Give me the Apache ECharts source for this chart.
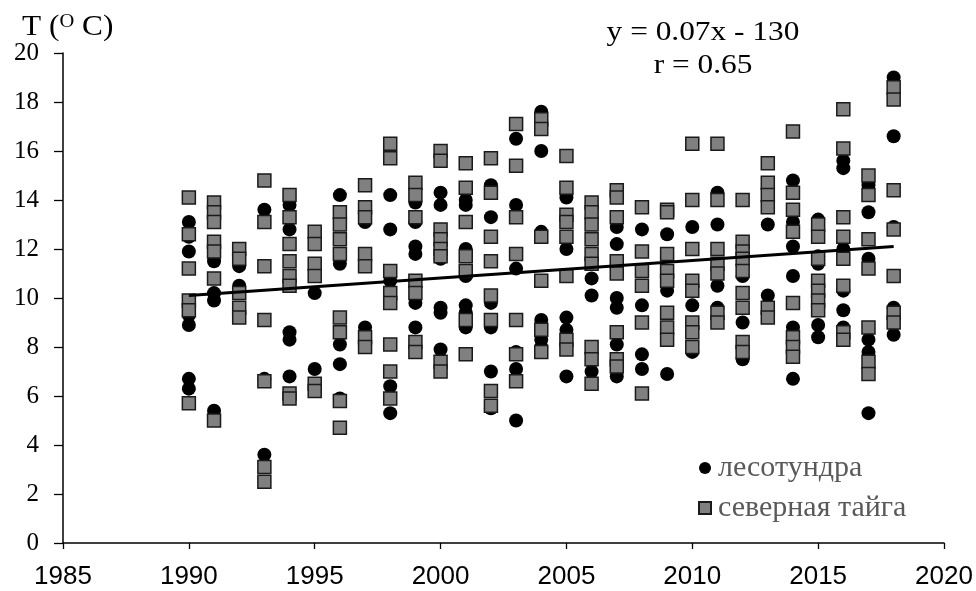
<!DOCTYPE html>
<html>
<head>
<meta charset="utf-8">
<script src="https://cdn.jsdelivr.net/npm/echarts@6/dist/echarts.min.js"></script>
<style>
html, body { margin: 0; padding: 0; background: #fff; }
#box1 { width: 976px; height: 591px; }
</style>
</head>
<body>
<div id="box1"></div>
<script>
// годы наблюдений
var years = [1990, 1991, 1992, 1993, 1994, 1995, 1996, 1997, 1998, 1999,
    2000, 2001, 2002, 2003, 2004, 2005, 2006, 2007, 2008, 2009,
    2010, 2011, 2012, 2013, 2014, 2015, 2016, 2017, 2018];

// лесотундра, T по годам
var lesotundra = [
    [13.1, 12.5, 11.9, 9.3, 8.9, 6.7, 6.3],
    [11.8, 11.5, 10.2, 9.9, 5.4],
    [11.3, 10.5],
    [13.6, 6.7, 3.6],
    [13.8, 12.8, 8.6, 8.3, 6.8],
    [10.2, 7.1],
    [14.2, 11.4, 8.1, 7.3, 5.9],
    [13.1, 8.8],
    [14.2, 12.8, 10.7, 6.4, 5.3],
    [13.9, 13.1, 12.1, 11.8, 9.8, 8.8],
    [14.3, 13.8, 11.6, 9.6, 9.4, 7.9],
    [14.0, 13.8, 12.0, 10.9, 9.7, 9.4, 8.8],
    [14.6, 13.3, 9.8, 8.8, 7.0, 5.5],
    [16.5, 13.8, 11.2, 7.8, 7.1, 5.0],
    [17.6, 16.0, 12.7, 9.1, 8.3, 8.0],
    [14.1, 12.0, 9.2, 8.7, 6.8],
    [10.8, 10.1, 7.0],
    [12.9, 12.2, 10.0, 9.6, 8.1, 6.8],
    [12.8, 9.7, 7.7, 7.1],
    [12.6, 10.3, 6.9],
    [12.9, 9.7, 7.8],
    [14.3, 13.0, 10.5, 9.6],
    [10.9, 9.0, 7.5],
    [13.0, 10.1],
    [14.8, 13.1, 12.1, 10.9, 8.8, 6.7],
    [13.2, 11.7, 11.4, 8.9, 8.4],
    [15.6, 15.3, 12.0, 10.3, 9.5, 8.8],
    [14.6, 13.5, 11.6, 8.3, 7.8, 5.3],
    [19.0, 16.6, 12.9, 9.6, 8.5]
];

// северная тайга, T по годам
var taiga = [
    [14.1, 12.6, 11.2, 9.9, 9.5, 5.7],
    [13.9, 13.5, 13.1, 12.3, 11.9, 10.8, 5.0],
    [12.0, 11.6, 10.2, 9.6, 9.2],
    [14.8, 13.1, 11.3, 9.1, 6.6, 3.1, 2.5],
    [14.2, 13.3, 12.2, 11.5, 10.9, 10.5, 6.1, 5.9],
    [12.7, 12.2, 11.4, 10.9, 6.5, 6.2],
    [13.5, 13.0, 12.4, 11.8, 9.2, 8.6, 5.8, 4.7],
    [14.6, 13.7, 13.3, 11.8, 11.3, 8.4, 8.0],
    [16.3, 15.7, 11.1, 10.2, 9.8, 8.1, 7.0, 5.9],
    [14.7, 14.2, 13.3, 10.7, 10.2, 8.2, 7.8],
    [16.0, 15.6, 12.8, 12.4, 12.0, 11.7, 7.4, 7.0],
    [15.5, 14.5, 13.1, 11.7, 11.1, 9.1, 7.7],
    [15.7, 14.3, 12.5, 11.5, 10.1, 9.1, 6.2, 5.6],
    [17.1, 15.4, 13.3, 11.8, 9.1, 7.7, 6.6],
    [17.3, 16.9, 12.5, 10.7, 8.7, 7.8],
    [15.8, 14.5, 13.4, 13.1, 12.5, 10.9, 8.3, 7.9],
    [13.9, 13.5, 13.0, 12.4, 11.8, 11.4, 8.0, 7.5, 6.5],
    [14.4, 14.1, 13.3, 11.5, 11.0, 8.6, 7.5, 7.2],
    [13.7, 11.9, 11.1, 10.5, 9.0, 6.1],
    [13.6, 13.5, 11.8, 11.1, 10.7, 9.4, 8.8, 8.3],
    [16.3, 14.0, 12.0, 10.7, 10.3, 9.0, 8.6, 8.0],
    [16.3, 14.0, 12.0, 11.4, 11.0, 9.4, 9.0],
    [14.0, 12.3, 11.9, 11.6, 11.1, 10.2, 9.6, 8.2, 7.8],
    [15.5, 14.7, 14.2, 13.7, 9.6, 9.2],
    [16.8, 14.3, 13.6, 12.7, 9.8, 8.4, 8.0, 7.6],
    [13.0, 12.5, 11.6, 10.7, 10.3, 9.9, 9.5],
    [17.7, 16.1, 13.3, 12.5, 11.6, 10.5, 8.6, 8.3],
    [15.0, 14.2, 12.4, 11.2, 8.8, 7.4, 6.9],
    [18.6, 18.1, 14.4, 12.8, 10.9, 9.4, 9.0]
];

// линия тренда (концы)
var trendYears = [1990, 2018];
var trendValues = [10.1, 12.1];

function toPoints(byYear) {
    var pts = [];
    for (var i = 0; i < years.length; i++) {
        for (var j = 0; j < byYear[i].length; j++) {
            pts.push([years[i], byYear[i][j]]);
        }
    }
    return pts;
}

var serif = '"Liberation Serif", "Times New Roman", serif';
var sans = '"Liberation Sans", Arial, sans-serif';

var dom = document.getElementById("box1");
var myChart = echarts.init(dom);
var option = {
    animation: false,
    grid: { left: 63, right: 32, top: 53, bottom: 48 },
    xAxis: {
        type: 'value',
        min: 1985,
        max: 2020,
        interval: 5,
        axisLine: { lineStyle: { color: '#000', width: 1.5 } },
        axisTick: { show: true, length: 6, lineStyle: { color: '#000', width: 1.3 } },
        axisLabel: {
            color: '#000', fontSize: 26, fontFamily: sans, margin: 21,
            formatter: function (v) { return String(v); }
        },
        splitLine: { show: false }
    },
    yAxis: {
        type: 'value',
        min: 0,
        max: 20,
        interval: 2,
        axisLine: { show: true, lineStyle: { color: '#000', width: 1.5 } },
        axisTick: { show: true, length: 9, lineStyle: { color: '#000', width: 1.3 } },
        axisLabel: { color: '#000', fontSize: 25, fontFamily: serif, margin: 24 },
        splitLine: { show: false }
    },
    legend: {
        orient: 'vertical',
        left: 693,
        top: 448,
        itemWidth: 12,
        itemHeight: 12,
        itemGap: 10,
        data: ['лесотундра', 'северная тайга'],
        textStyle: { color: '#595959', fontSize: 30, lineHeight: 30, fontFamily: serif, padding: [0, 0, 0, 2] }
    },
    graphic: [
        {
            type: 'text',
            x: 22,
            y: 13,
            scaleX: 1.08,
            style: {
                text: 'T ({sup|O} C)',
                font: '29px ' + serif,
                fill: '#000',
                rich: {
                    sup: { fontSize: 19, fontFamily: serif, verticalAlign: 'top', padding: [0, 0, 10, 0] }
                }
            }
        },
        {
            type: 'text',
            x: 703,
            y: 19,
            scaleX: 1.12,
            style: { text: 'y = 0.07x - 130', font: '28px ' + serif, fill: '#000', align: 'center' }
        },
        {
            type: 'text',
            x: 703,
            y: 52,
            scaleX: 1.12,
            style: { text: 'r = 0.65', font: '28px ' + serif, fill: '#000', align: 'center' }
        }
    ],
    series: [
        {
            name: 'лесотундра',
            type: 'scatter',
            symbol: 'circle',
            symbolSize: 14,
            itemStyle: { color: '#000', opacity: 1 },
            data: toPoints(lesotundra),
            z: 2
        },
        {
            name: 'северная тайга',
            type: 'scatter',
            symbol: 'rect',
            symbolSize: 13,
            itemStyle: { color: '#808080', borderColor: '#1a1a1a', borderWidth: 1.5, opacity: 1 },
            data: toPoints(taiga),
            z: 3
        },
        {
            name: 'trend',
            type: 'line',
            symbol: 'none',
            lineStyle: { color: '#000', width: 3 },
            data: [[trendYears[0], trendValues[0]], [trendYears[1], trendValues[1]]],
            z: 4
        }
    ]
};

if (option && typeof option === "object") {
    myChart.setOption(option, true);
}
</script>
</body>
</html>
